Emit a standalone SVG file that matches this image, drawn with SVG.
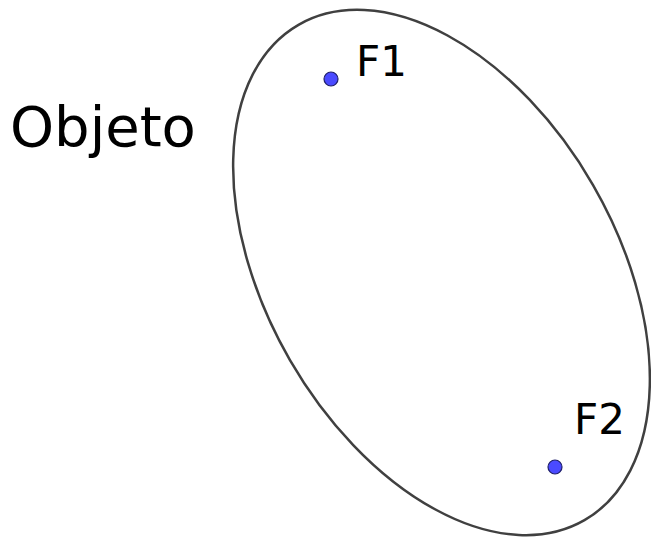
<svg xmlns="http://www.w3.org/2000/svg" width="651" height="540" viewBox="0 0 651 540">
<style>
.lbl{font-family:"DejaVu Sans",sans-serif;fill:#000}
.focus{fill:#4a4aff;stroke:#20206a;stroke-width:1.2}
</style>
<rect width="651" height="540" fill="#fff"/>
<g id="objeto">
<ellipse cx="441.5" cy="272.5" rx="286" ry="175" transform="rotate(60 441.5 272.5)" fill="none" stroke="#404040" stroke-width="2.5"/>
<text class="lbl" x="10" y="146" font-size="56">Objeto</text>
</g>
<g id="f1">
<circle class="focus" cx="331" cy="79" r="7"/>
<text class="lbl" x="356" y="76" font-size="42">F1</text>
</g>
<g id="f2">
<circle class="focus" cx="555" cy="467" r="7"/>
<text class="lbl" x="574" y="434" font-size="42">F2</text>
</g>
<g id="connectors"></g>
</svg>
